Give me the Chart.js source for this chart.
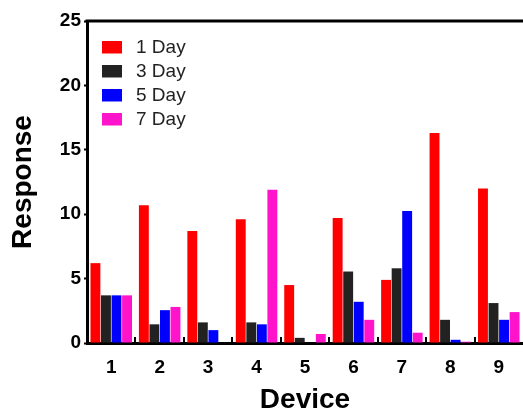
<!DOCTYPE html>
<html>
<head>
<meta charset="utf-8">
<script src="https://cdn.jsdelivr.net/npm/chart.js@4"></script>
<style>
  html, body { margin: 0; padding: 0; background: #fff; }
  #wrap { width: 523px; height: 414px; }
</style>
</head>
<body>
<div id="wrap"><canvas id="responseChart"></canvas></div>
<script>
const devices = ['1', '2', '3', '4', '5', '6', '7', '8', '9'];
const day1 = [6.2, 10.7, 8.7, 9.6, 4.5, 9.7, 4.9, 16.3, 12.0];
const day3 = [3.7, 1.45, 1.6, 1.6, 0.4, 5.55, 5.8, 1.8, 3.1];
const day5 = [3.7, 2.55, 1.0, 1.45, 0, 3.2, 10.25, 0.25, 1.8];
const day7 = [3.7, 2.8, 0, 11.9, 0.7, 1.8, 0.8, 0.1, 2.4];
const yTicks = [0, 5, 10, 15, 20, 25];

const FONT = '"Liberation Sans", Arial, sans-serif';

// legend drawn inside the plot, top-left, as in the original figure
const insideLegend = {
  id: 'insideLegend',
  afterDraw(chart) {
    const ctx = chart.ctx;
    const area = chart.chartArea;
    ctx.save();
    ctx.font = '19px ' + FONT;
    ctx.textBaseline = 'middle';
    chart.data.datasets.forEach((ds, i) => {
      const cy = area.top + 26 + i * 24;
      ctx.fillStyle = ds.backgroundColor;
      ctx.fillRect(area.left + 15, cy - 6, 20, 12.5);
      ctx.fillStyle = '#222';
      ctx.fillText(ds.label, area.left + 49, cy + 1);
    });
    ctx.restore();
  }
};

// top frame line and short inward ticks between device groups
const frame = {
  id: 'frame',
  afterDraw(chart) {
    const ctx = chart.ctx;
    const area = chart.chartArea;
    const x = chart.scales.x;
    ctx.save();
    ctx.strokeStyle = '#000';
    ctx.lineWidth = 3;
    ctx.beginPath();
    ctx.moveTo(area.left - 1.5, area.top);
    ctx.lineTo(area.right + 2, area.top);
    ctx.stroke();
    ctx.lineWidth = 2;
    for (let i = 1; i < devices.length; i++) {
      const px = Math.round((x.getPixelForValue(i - 1) + x.getPixelForValue(i)) / 2);
      ctx.beginPath();
      ctx.moveTo(px, area.bottom);
      ctx.lineTo(px, area.bottom - 6);
      ctx.stroke();
    }
    ctx.restore();
  }
};

const ctx = document.getElementById('responseChart').getContext('2d');

new Chart(ctx, {
  type: 'bar',
  data: {
    labels: devices,
    datasets: [
      { label: '1 Day', data: day1, backgroundColor: '#ff0000' },
      { label: '3 Day', data: day3, backgroundColor: '#222222' },
      { label: '5 Day', data: day5, backgroundColor: '#0000ff' },
      { label: '7 Day', data: day7, backgroundColor: '#ff14cc' }
    ]
  },
  options: {
    responsive: true,
    maintainAspectRatio: false,
    animation: false,
    layout: { padding: { top: 21, left: 0, right: 0, bottom: 0 } },
    datasets: {
      bar: { categoryPercentage: 0.87, barPercentage: 0.94 }
    },
    plugins: {
      legend: { display: false },
      tooltip: { enabled: false }
    },
    scales: {
      x: {
        offset: true,
        grid: { display: false, drawTicks: false },
        border: { color: '#000', width: 3 },
        ticks: {
          color: '#000',
          padding: 13,
          font: { family: FONT, size: 19, weight: 'bold' }
        },
        title: {
          display: true,
          text: 'Device',
          color: '#000',
          padding: { top: 0, bottom: 0 },
          font: { family: FONT, size: 28, weight: 'bold', lineHeight: 1 }
        },
        afterFit(scale) { scale.height = 71; }
      },
      y: {
        min: 0,
        max: 25,
        afterBuildTicks(scale) { scale.ticks = yTicks.map(v => ({ value: v })); },
        grid: { drawOnChartArea: false, tickLength: 3, tickWidth: 2, tickColor: '#000' },
        border: { color: '#000', width: 3 },
        ticks: {
          color: '#000',
          padding: 3,
          font: { family: FONT, size: 19, weight: 'bold' }
        },
        title: {
          display: true,
          text: 'Response',
          color: '#000',
          padding: { top: 9, bottom: 0 },
          font: { family: FONT, size: 28, weight: 'bold', lineHeight: 1 }
        },
        afterFit(scale) { scale.width = 87; }
      }
    }
  },
  plugins: [insideLegend, frame]
});
</script>
</body>
</html>
